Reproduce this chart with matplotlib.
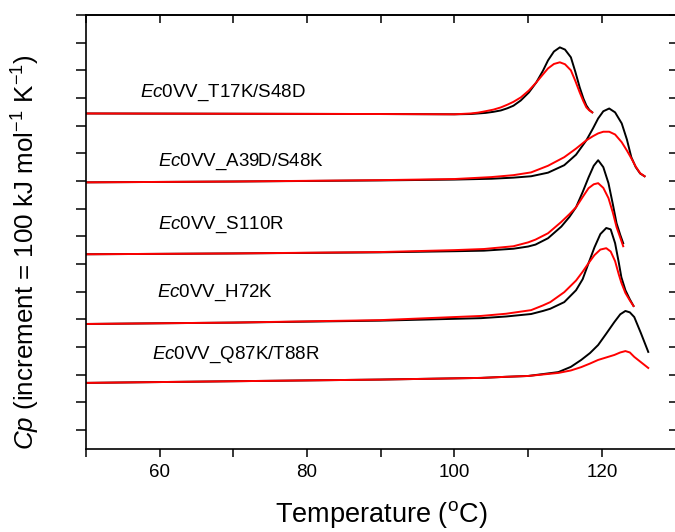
import matplotlib
matplotlib.use('Agg')
import matplotlib.pyplot as plt
from matplotlib.ticker import MultipleLocator

plt.rcParams['font.family'] = ['Liberation Sans', 'DejaVu Sans']
plt.rcParams['mathtext.fontset'] = 'custom'
plt.rcParams['mathtext.rm'] = 'Liberation Sans'
plt.rcParams['mathtext.it'] = 'Liberation Sans:italic'

# sample names (top to bottom)
names = ['T17K/S48D', 'A39D/S48K', 'S110R', 'H72K', 'Q87K/T88R']
label_x = [57.3, 59.8, 59.8, 59.6, 59.0]
label_y = [12.17, 9.68, 7.40, 4.95, 2.71]

# temperature (C) and offset Cp (tick units), black = scan 1, red = scan 2
T1 = [50, 70, 90, 100, 102.2, 103.2, 104.2, 105.3, 106.3, 107.2, 108, 109.0, 110.1, 111.1, 112.0, 112.7, 113.5, 114.3, 115.0, 115.8, 116.4, 117.0, 117.5, 117.9, 118.3, 118.7]
black1 = [11.44, 11.43, 11.42, 11.41, 11.42, 11.44, 11.46, 11.50, 11.55, 11.63, 11.72, 11.91, 12.20, 12.56, 12.98, 13.36, 13.68, 13.83, 13.75, 13.47, 12.95, 12.38, 11.98, 11.73, 11.57, 11.48]
red1 = [11.44, 11.43, 11.42, 11.41, 11.44, 11.47, 11.52, 11.58, 11.66, 11.76, 11.86, 12.02, 12.27, 12.56, 12.85, 13.07, 13.23, 13.29, 13.22, 13.00, 12.62, 12.20, 11.88, 11.66, 11.55, 11.48]

T2 = [50, 70, 90, 100, 105, 108, 110.4, 112.7, 114.9, 116.5, 117.9, 118.8, 119.5, 120.2, 121.0, 121.8, 122.7, 123.4, 124.0, 124.6, 125.2, 125.8]
black2 = [8.95, 8.98, 9.02, 9.05, 9.08, 9.12, 9.17, 9.30, 9.57, 9.95, 10.47, 10.90, 11.26, 11.52, 11.62, 11.48, 11.08, 10.50, 9.86, 9.50, 9.27, 9.17]
red2 = [8.95, 8.98, 9.03, 9.07, 9.14, 9.21, 9.31, 9.55, 9.86, 10.17, 10.47, 10.62, 10.72, 10.78, 10.78, 10.68, 10.40, 10.10, 9.82, 9.52, 9.28, 9.17]

T3 = [50, 70, 90, 100, 104, 108, 110, 111, 112.7, 114.5, 115.6, 116.5, 117.4, 118.2, 118.9, 119.5, 120.2, 120.9, 121.5, 122.0, 122.5, 122.9]
black3 = [6.35, 6.38, 6.42, 6.46, 6.48, 6.55, 6.63, 6.70, 6.93, 7.35, 7.70, 8.05, 8.60, 9.13, 9.55, 9.75, 9.50, 8.92, 8.15, 7.47, 7.05, 6.75]
red3 = [6.35, 6.38, 6.43, 6.50, 6.54, 6.64, 6.78, 6.88, 7.11, 7.52, 7.80, 8.05, 8.42, 8.74, 8.88, 8.92, 8.75, 8.38, 7.85, 7.33, 6.95, 6.64]

T4 = [50, 70, 90, 103.6, 107, 110.4, 112, 113, 114.9, 116.5, 117.4, 118.2, 119.0, 119.8, 120.6, 121.2, 121.8, 122.3, 122.65, 123.2, 123.8, 124.3]
black4 = [3.83, 3.88, 3.95, 4.04, 4.10, 4.19, 4.30, 4.38, 4.62, 5.05, 5.45, 6.03, 6.60, 7.08, 7.30, 7.25, 6.75, 6.05, 5.52, 5.05, 4.72, 4.48]
red4 = [3.83, 3.88, 3.97, 4.12, 4.20, 4.33, 4.50, 4.62, 4.98, 5.40, 5.72, 6.03, 6.32, 6.52, 6.57, 6.45, 6.10, 5.62, 5.32, 4.95, 4.68, 4.48]

T5 = [50, 70, 90, 103.6, 107, 110, 114.1, 115.8, 117.2, 118.4, 119.5, 120.6, 121.7, 122.5, 123.2, 123.8, 124.4, 125.3, 126.3]
black5 = [1.70, 1.76, 1.82, 1.88, 1.92, 1.95, 2.09, 2.28, 2.53, 2.78, 3.07, 3.48, 3.90, 4.18, 4.30, 4.25, 4.08, 3.50, 2.82]
red5 = [1.70, 1.76, 1.82, 1.88, 1.92, 1.95, 2.06, 2.15, 2.27, 2.40, 2.53, 2.62, 2.71, 2.80, 2.85, 2.80, 2.64, 2.45, 2.24]

temps = [T1, T2, T3, T4, T5]
blacks = [black1, black2, black3, black4, black5]
reds = [red1, red2, red3, red4, red5]

fig = plt.figure(figsize=(6.75, 5.32), dpi=100)
ax = fig.add_axes([86 / 675, 83 / 532, 591 / 675, 434 / 532])

for T, b, r in zip(temps, blacks, reds):
    ax.plot(T, b, color='black', lw=1.4)
    ax.plot(T, r, color='red', lw=1.4)

for name, lx, ly in zip(names, label_x, label_y):
    ax.text(lx, ly, r'$\mathit{Ec}$0VV_' + name, fontsize=13.5, va='center', ha='left')

ax.set_xlim(50, 130.2)
ax.set_ylim(-0.69, 15.0)

ax.xaxis.set_major_locator(MultipleLocator(20))
ax.xaxis.set_minor_locator(MultipleLocator(10))
ax.yaxis.set_major_locator(MultipleLocator(1))
ax.set_yticklabels([])
ax.tick_params(axis='x', which='both', direction='out', length=5.5, width=1.1, labelsize=13.5, pad=5)
ax.tick_params(axis='y', which='both', direction='out', length=7, width=1.1, labelleft=False)

top = ax.secondary_xaxis('top')
top.xaxis.set_major_locator(MultipleLocator(10))
top.tick_params(direction='in', length=6, width=1.1, labeltop=False)
right = ax.secondary_yaxis('right')
right.yaxis.set_major_locator(MultipleLocator(1))
right.tick_params(direction='in', length=5.5, width=1.1, labelright=False)

for s in list(ax.spines.values()) + [top.spines['top'], right.spines['right']]:
    s.set_linewidth(1.2)

ax.set_xlabel(r'Temperature ($^\mathregular{o}$C)', fontsize=19.5, labelpad=13)
ax.set_ylabel(r'$\mathit{Cp}$ (increment = 100 kJ mol$^\mathregular{-1}$ K$^\mathregular{-1}$)', fontsize=18.7)
ax.yaxis.set_label_coords(-0.075, 0.454)

fig.savefig('out.png', dpi=100)
